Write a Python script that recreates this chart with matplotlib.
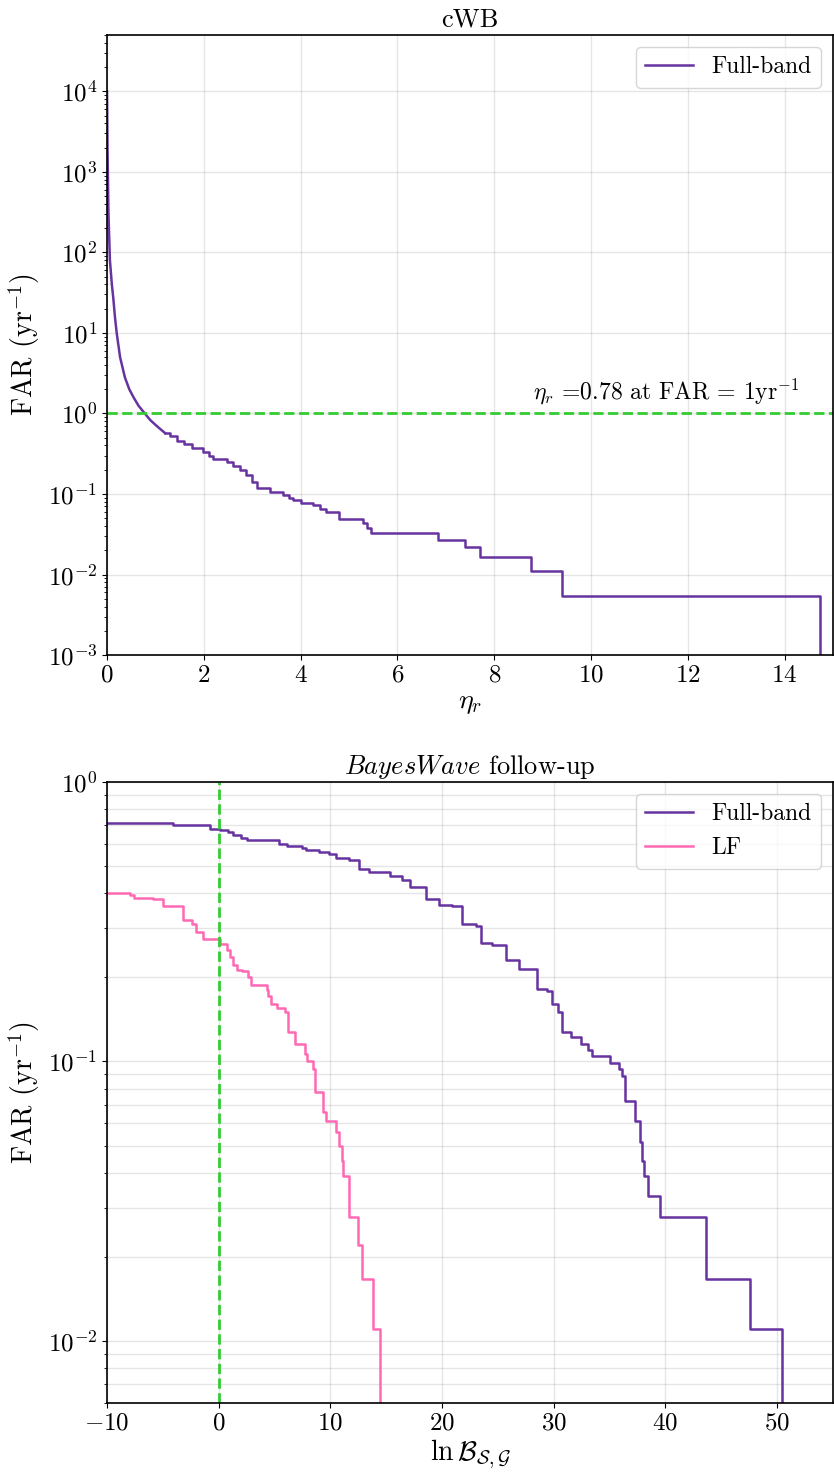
import matplotlib
matplotlib.use('Agg')
import matplotlib.pyplot as plt
from matplotlib.ticker import FuncFormatter, LogLocator, NullFormatter

plt.rcParams['font.family'] = ['cmr10', 'DejaVu Serif']
plt.rcParams['mathtext.fontset'] = 'cm'
plt.rcParams['axes.formatter.use_mathtext'] = True
plt.rcParams['axes.unicode_minus'] = False
plt.rcParams['axes.linewidth'] = 1.2

PURPLE = '#6633a0'
PINK = '#ff69b4'
GREEN = '#33cc33'

# cWB: smooth head of the curve, then the stepped tail
cwb_eta_head = [0.0, 0.01, 0.03, 0.06, 0.1, 0.13, 0.165, 0.2, 0.27, 0.37, 0.46, 0.55, 0.65, 0.78, 0.9, 1.05, 1.2]
cwb_far_head = [1e4, 2e3, 300, 80, 40, 27, 15.6, 10, 5, 2.8, 2.0, 1.58, 1.25, 1.0, 0.82, 0.68, 0.57]
cwb_eta_tail = [1.2, 1.3, 1.45, 1.6, 1.75, 1.98, 2.1, 2.2, 2.47, 2.6, 2.74, 2.88, 3.0, 3.1, 3.36, 3.64,
                3.75, 3.85, 4.0, 4.26, 4.4, 4.53, 4.8, 5.29, 5.38, 5.46, 6.83, 7.39, 7.7, 8.75, 9.41, 14.73]
cwb_far_tail = [0.57, 0.52, 0.46, 0.42, 0.37, 0.33, 0.3, 0.27, 0.25, 0.22, 0.2, 0.17, 0.14, 0.12, 0.105, 0.098,
                0.09, 0.083, 0.078, 0.072, 0.066, 0.06, 0.049, 0.043, 0.038, 0.0326, 0.0272, 0.0217, 0.0163,
                0.0109, 0.0054, 1e-4]
eta_thr = 0.78

# BayesWave follow-up
fb_lnb = [-10, -4.1, -0.8, 0.1, 0.8, 1.25, 2.0, 2.5, 5.4, 6.1,
          7.5, 7.8, 9.0, 9.9, 10.5, 11.7, 12.6, 13.5, 15.3, 16.4,
          17.1, 18.6, 19.7, 20.9, 21.8, 23.0, 23.5, 24.5, 25.7, 26.9,
          28.5, 29.4, 29.8, 30.4, 30.7, 31.5, 32.4, 33.1, 33.4, 35.0,
          35.8, 36.1, 36.4, 37.3, 37.7, 37.9, 38.1, 38.4, 39.5, 43.6,
          47.6, 50.4]
fb_far = [0.714, 0.70, 0.68, 0.674, 0.66, 0.647, 0.63, 0.62, 0.60, 0.59,
          0.58, 0.57, 0.56, 0.553, 0.535, 0.527, 0.49, 0.477, 0.46, 0.447,
          0.42, 0.38, 0.364, 0.36, 0.31, 0.306, 0.266, 0.262, 0.231, 0.215,
          0.182, 0.178, 0.16, 0.15, 0.127, 0.122, 0.115, 0.11, 0.105, 0.099,
          0.094, 0.089, 0.072, 0.061, 0.0514, 0.044, 0.039, 0.033, 0.0277, 0.0166,
          0.011, 0.004]
lf_lnb = [-10, -7.9, -7.6, -5.9, -5.0, -3.2, -2.4, -2.0, -1.4, 0.1,
          0.7, 1.0, 1.25, 1.6, 2.1, 2.6, 2.9, 4.3, 4.4, 4.7,
          5.2, 5.9, 6.2, 6.8, 7.7, 7.9, 8.4, 8.6, 9.3, 9.6,
          10.5, 10.8, 11.0, 11.1, 11.7, 12.5, 12.8, 13.8, 14.4]
lf_far = [0.40, 0.395, 0.385, 0.38, 0.36, 0.32, 0.31, 0.29, 0.275, 0.264,
          0.25, 0.237, 0.222, 0.213, 0.21, 0.2, 0.187, 0.18, 0.171, 0.16,
          0.155, 0.15, 0.127, 0.115, 0.106, 0.1, 0.094, 0.078, 0.066, 0.061,
          0.056, 0.05, 0.044, 0.039, 0.0277, 0.022, 0.0166, 0.011, 0.004]

fig = plt.figure(figsize=(8.34, 14.77), dpi=100)
ax1 = fig.add_axes([0.1283, 0.5565, 0.8705, 0.4198])
ax2 = fig.add_axes([0.1283, 0.0501, 0.8705, 0.4205])

# Panel superior: cWB
ax1.plot(cwb_eta_head, cwb_far_head, color=PURPLE, lw=1.8, label='Full-band')
ax1.step(cwb_eta_tail, cwb_far_tail, where='post', color=PURPLE, lw=1.8)
ax1.axhline(1.0, color=GREEN, ls='--', lw=2)
ax1.text(8.8, 1.25, r'$\eta_r$ =%.2f at FAR = 1yr$^{-1}$' % eta_thr, fontsize=17, va='bottom')
ax1.set_yscale('log')
ax1.set_xlim(0, 15)
ax1.set_ylim(1e-3, 5e4)
ax1.set_xticks(range(0, 15, 2))
ax1.yaxis.set_major_locator(LogLocator(base=10, numticks=20))
ax1.yaxis.set_minor_locator(LogLocator(base=10, subs=range(2, 10), numticks=100))
ax1.yaxis.set_minor_formatter(NullFormatter())
ax1.grid(True, which='major', color='gray', alpha=0.2, lw=1)
ax1.set_title('cWB', fontsize=19)
ax1.set_xlabel(r'$\eta_r$', fontsize=20, labelpad=2)
ax1.set_ylabel(r'FAR $(\mathrm{yr}^{-1})$', fontsize=20)
ax1.tick_params(labelsize=18)
ax1.legend(loc='upper right', fontsize=17)

# Panel inferior: BayesWave
ax2.step(fb_lnb, fb_far, where='post', color=PURPLE, lw=1.8, label='Full-band')
ax2.step(lf_lnb, lf_far, where='post', color=PINK, lw=1.8, label='LF')
ax2.axvline(0.0, color=GREEN, ls='--', lw=2)
ax2.set_yscale('log')
ax2.set_xlim(-10, 55)
ax2.set_ylim(0.006, 1)
ax2.set_xticks(range(-10, 51, 10))
ax2.xaxis.set_major_formatter(FuncFormatter(lambda v, p: r'$%d$' % v))
ax2.yaxis.set_minor_locator(LogLocator(base=10, subs=range(2, 10), numticks=100))
ax2.yaxis.set_minor_formatter(NullFormatter())
ax2.grid(True, which='major', color='gray', alpha=0.2, lw=1)
ax2.grid(True, which='minor', axis='y', color='gray', alpha=0.2, lw=1)
ax2.set_title(r'$BayesWave$ follow-up', fontsize=19)
ax2.set_xlabel(r'$\ln\mathcal{B}_{\mathcal{S},\mathcal{G}}$', fontsize=20, labelpad=2)
ax2.set_ylabel(r'FAR $(\mathrm{yr}^{-1})$', fontsize=20)
ax2.tick_params(labelsize=18)
ax2.legend(loc='upper right', fontsize=17)

fig.savefig('out.png', dpi=100)
